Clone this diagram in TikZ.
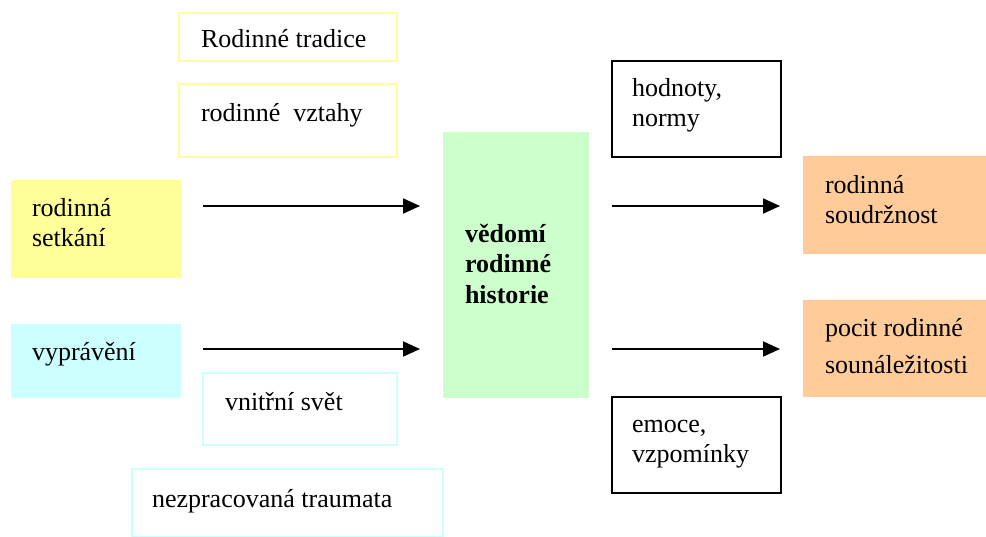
\documentclass[tikz,border=0pt]{standalone}
\usepackage{fontspec}
\setmainfont{Liberation Serif}
\usetikzlibrary{arrows.meta}
\definecolor{ylw}{HTML}{FFFF99}
\definecolor{cyn}{HTML}{CCFFFF}
\definecolor{grn}{HTML}{CCFFCC}
\definecolor{org}{HTML}{FFCC99}
\begin{document}
\begin{tikzpicture}[x=1pt,y=-1pt,
  box/.style={rectangle, inner sep=0pt, outer sep=0pt, anchor=north west, line width=2pt},
  ybox/.style={box, draw=ylw},
  cbox/.style={box, draw=cyn},
  kbox/.style={box, draw=black},
  txt/.style={inner sep=0pt, outer sep=0pt, anchor=north west, align=left, font=\fontsize{26}{30.5}\selectfont},
  arr/.style={line width=2pt, -{Triangle[length=17pt,width=15pt]}}]
\useasboundingbox (0,0) rectangle (986,536);
% boxes
\node[ybox, minimum width=218pt, minimum height=48pt] (tradice) at (179,13) {};
\node[ybox, minimum width=218pt, minimum height=73pt] (vztahy) at (179,84) {};
\node[box, fill=ylw, minimum width=170pt, minimum height=98pt] (setkani) at (11,180) {};
\node[box, fill=cyn, minimum width=170pt, minimum height=74pt] (vypraveni) at (11,324) {};
\node[cbox, minimum width=194pt, minimum height=72pt] (vnitrni) at (203,373) {};
\node[cbox, minimum width=311pt, minimum height=68pt] (trauma) at (132,469) {};
\node[box, fill=grn, minimum width=146pt, minimum height=266pt] (green) at (443,132) {};
\node[kbox, minimum width=169pt, minimum height=96pt] (hodnoty) at (612,61) {};
\node[box, fill=org, minimum width=183pt, minimum height=98pt] (or1) at (803,156) {};
\node[box, fill=org, minimum width=183pt, minimum height=97pt] (or2) at (803,300) {};
\node[kbox, minimum width=169pt, minimum height=96pt] (emoce) at (612,397) {};
% texts
\node[txt] (tradiceT) at (201,25.65) {\strut Rodinné tradice};
\node[txt] (vztahyT) at (201,99.65) {\strut rodinné\ \ vztahy};
\node[txt] (setkaniT) at (32,194.65) {\strut rodinná\\setkání};
\node[txt] (vypraveniT) at (32,338.65) {\strut vyprávění};
\node[txt] (vnitrniT) at (225,388.65) {\strut vnitřní svět};
\node[txt] (traumaT) at (152,485.65) {\strut nezpracovaná traumata};
\node[txt, font=\fontsize{26}{30.5}\selectfont\bfseries] (greenT) at (465,220.65) {\strut vědomí\\rodinné\\historie};
\node[txt] (hodnotyT) at (632,74.65) {\strut hodnoty,\\normy};
\node[txt] (or1T) at (825,171.65) {\strut rodinná\\soudržnost};
\node[txt, font=\fontsize{26}{36.7}\selectfont] (or2T) at (825,311.3) {\strut pocit rodinné\\sounáležitosti};
\node[txt] (emoceT) at (632,410.65) {\strut emoce,\\vzpomínky};
% arrows
\coordinate (ya) at (0,206);
\coordinate (yb) at (0,349);
\draw[arr, shorten <=22pt, shorten >=23pt] (setkani.east |- ya) -- (green.west |- ya);
\draw[arr, shorten <=22pt, shorten >=23pt] (vypraveni.east |- yb) -- (green.west |- yb);
\draw[arr, shorten <=23pt, shorten >=23pt] (green.east |- ya) -- (or1.west |- ya);
\draw[arr, shorten <=23pt, shorten >=23pt] (green.east |- yb) -- (or2.west |- yb);
\end{tikzpicture}
\end{document}
